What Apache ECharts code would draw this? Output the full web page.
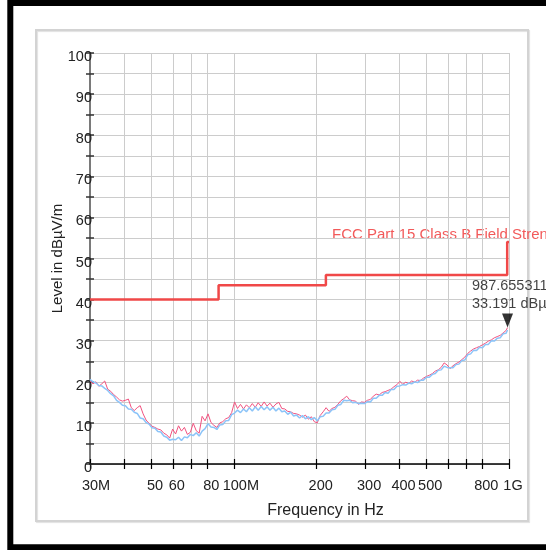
<!DOCTYPE html>
<html>
<head>
<meta charset="utf-8">
<script src="https://cdn.jsdelivr.net/npm/echarts@6/dist/echarts.min.js"></script>
<style>
  html, body { margin: 0; padding: 0; background: #fff; }
  #chart { width: 546px; height: 550px; }
</style>
</head>
<body>
<div id="chart"></div>
<script>
// Sweep frequencies in MHz
const freqMHz = [
  30, 30.75, 31.52, 32.31, 33.11, 33.94, 34.79, 35.66, 36.55, 37.47,
  38.4, 39.36, 40.35, 41.36, 42.39, 43.45, 44.54, 45.65, 46.79, 47.96,
  49.16, 50.39, 51.65, 52.94, 54.26, 55.62, 57.01, 58.44, 59.9, 61.4,
  62.93, 64.5, 66.12, 67.77, 69.46, 71.2, 72.98, 74.8, 76.67, 78.59,
  80.56, 82.57, 84.64, 86.75, 88.92, 91.14, 93.42, 95.76, 98.15, 100.6,
  103.1, 105.7, 108.4, 111.1, 113.8, 116.7, 119.6, 122.6, 125.7, 128.8,
  132, 135.3, 138.7, 142.2, 145.7, 149.4, 153.1, 157, 160.9, 164.9,
  169, 173.3, 177.6, 182, 186.6, 191.3, 196, 200.9, 205.9, 211.1,
  216.4, 221.8, 227.3, 233, 238.8, 244.8, 250.9, 257.2, 263.6, 270.2,
  277, 283.9, 291, 298.3, 305.7, 313.4, 321.2, 329.2, 337.5, 345.9,
  354.6, 363.4, 372.5, 381.8, 391.4, 401.2, 411.2, 421.5, 432, 442.8,
  453.9, 465.2, 476.9, 488.8, 501, 513.5, 526.4, 539.5, 553, 566.9,
  581, 595.6, 610.5, 625.7, 641.4, 657.4, 673.8, 690.7, 707.9, 725.6,
  743.8, 762.4, 781.5, 801, 821, 841.6, 862.6, 884.2, 906.3, 928.9,
  952.2, 976, 987.655311
];

// Peak detector trace, dBµV/m
const peakLevel = [
  20.2, 19.5, 20.0, 18.9, 19.5, 20.2, 18.2, 17.7, 16.9, 16.3,
  15.6, 15.3, 15.5, 15.8, 13.7, 13.0, 13.7, 14.2, 12.2, 10.7,
  9.9, 9.2, 8.9, 8.5, 8.3, 7.5, 7.1, 6.3, 8.5, 7.3,
  9.3, 8.0, 8.9, 7.2, 7.7, 9.9, 8.1, 7.5, 11.6, 10.5,
  12.2, 10.1, 9.4, 8.9, 10.0, 10.3, 11.0, 11.3, 12.5, 15.1,
  13.5, 14.5, 13.4, 14.4, 13.7, 14.7, 13.8, 14.9, 14.0, 15.1,
  14.1, 14.8, 13.8, 14.6, 15.0, 13.5, 13.4, 12.8, 12.7, 12.3,
  12.2, 11.9, 11.4, 11.9, 10.9, 11.5, 10.3, 10.0, 11.8, 12.7,
  13.7, 12.8, 13.5, 13.8, 14.5, 15.4, 15.9, 16.5, 15.6, 15.4,
  15.3, 14.5, 15.1, 15.0, 15.5, 15.7, 16.5, 17.0, 16.8, 17.4,
  17.6, 17.9, 18.2, 18.8, 19.3, 20.1, 19.4, 19.9, 19.6, 20.2,
  19.9, 20.4, 20.3, 20.9, 21.3, 21.6, 22.0, 22.6, 22.9, 23.5,
  24.6, 24.1, 23.2, 23.9, 24.4, 24.8, 25.4, 26.0, 26.9, 27.5,
  28.0, 28.3, 28.6, 29.0, 29.4, 29.9, 30.2, 30.7, 31.0, 31.3,
  31.9, 32.5, 33.191
];

// Average detector trace, dBµV/m
const avgLevel = [
  20.6, 20.0, 19.7, 19.1, 19.0, 18.4, 17.9, 17.1, 16.6, 15.5,
  15.0, 14.3, 14.2, 13.4, 13.3, 12.6, 12.3, 11.2, 11.0, 10.1,
  9.7, 8.8, 8.7, 7.9, 7.8, 6.8, 6.5, 5.8, 6.0, 5.9,
  6.5, 5.7, 6.6, 6.4, 7.2, 6.9, 7.6, 6.8, 8.0, 8.6,
  9.8, 9.0, 8.9, 8.4, 9.5, 9.6, 10.5, 10.6, 12.0, 12.4,
  13.1, 12.5, 13.4, 12.7, 13.7, 12.9, 13.9, 13.1, 14.0, 13.2,
  13.9, 13.1, 13.8, 12.9, 13.6, 12.7, 12.9, 12.1, 12.6, 11.7,
  11.9, 11.2, 11.8, 11.0, 11.5, 10.8, 11.3, 10.5, 11.5, 11.6,
  12.4, 12.4, 13.2, 13.3, 14.3, 14.5, 15.5, 15.4, 15.5, 14.9,
  15.0, 14.7, 14.8, 14.7, 15.2, 15.1, 16.0, 16.0, 16.7, 16.7,
  17.4, 17.2, 18.1, 18.1, 18.9, 19.0, 19.3, 19.2, 19.7, 19.5,
  20.0, 19.8, 20.4, 20.4, 21.1, 21.1, 21.8, 22.0, 22.8, 22.9,
  23.8, 23.5, 23.4, 23.4, 24.2, 24.3, 25.2, 25.3, 26.6, 26.8,
  27.7, 27.6, 28.4, 28.3, 29.1, 29.1, 30.0, 29.9, 30.6, 30.7,
  31.7, 31.8, 32.6
];

// Limit line breakpoints (step drawn at each breakpoint)
const limitName = 'FCC Part 15 Class B Field Strength';
const limitFreqMHz = [30, 88, 216, 985, 1000];
const limitLevel = [40, 43.5, 46, 54, 54];

// Marker
const markerFreqMHz = 987.655311;
const markerLevel = 33.191;

// Axis ticks
const gridFreqMHz = [30, 40, 50, 60, 70, 80, 100, 200, 300, 400, 500, 600, 700, 800, 1000];
const labelFreqMHz = [30, 50, 60, 80, 100, 200, 300, 400, 500, 800, 1000];
const labelText = ['30M', '50', '60', '80', '100M', '200', '300', '400', '500', '800', '1G'];
const levelMin = 0, levelMax = 100, levelStep = 5;

const lg = Math.log10;
const FONT = '"Liberation Sans", Arial, sans-serif';
const TEXT = '#222';
const FS = 14.5;

const toPairs = (xs, ys) => xs.map((f, i) => [lg(f), ys[i]]);

function freqLabel(v) {
  const i = labelFreqMHz.findIndex(f => Math.abs(lg(f) - v) < 1e-6);
  if (i < 0) return '';
  const t = labelText[i];
  const style = (t === '30M') ? 'w' : (t === '100M') ? 'ww' : 'n';
  return '{' + style + '|' + t + '}';
}

const xBase = {
  type: 'value',
  min: lg(30),
  max: lg(1000),
  position: 'bottom',
  gridIndex: 0
};
const yBase = {
  type: 'value',
  min: levelMin,
  max: levelMax,
  interval: levelStep,
  position: 'left',
  gridIndex: 0
};

const chart = echarts.init(document.getElementById('chart'), null, { renderer: 'canvas' });

chart.setOption({
  animation: false,
  backgroundColor: '#fff',
  textStyle: { fontFamily: FONT },
  grid: { left: 90, top: 53, width: 419, height: 411, containLabel: false },
  xAxis: [
    Object.assign({}, xBase, {
      name: 'Frequency in Hz',
      nameLocation: 'middle',
      nameGap: 39,
      nameMoveOverlap: false,
      nameTextStyle: { fontSize: 16, color: TEXT, fontFamily: FONT, padding: [0, 0, 0, 52] },
      axisLine: { show: true, onZero: false, lineStyle: { color: '#000', width: 1.5 } },
      axisTick: { show: true, length: 5, customValues: gridFreqMHz.map(lg), lineStyle: { color: '#000', width: 1.2 } },
      splitLine: { show: true, lineStyle: { color: '#cccccc', width: 1 } },
      axisLabel: {
        show: true,
        customValues: labelFreqMHz.map(lg),
        margin: 14,
        fontSize: FS,
        color: TEXT,
        fontFamily: FONT,
        formatter: freqLabel,
        rich: {
          n: { fontSize: FS, color: TEXT, fontFamily: FONT, padding: [0, 0, 0, 8] },
          w: { fontSize: FS, color: TEXT, fontFamily: FONT, padding: [0, 0, 0, 12] },
          ww: { fontSize: FS, color: TEXT, fontFamily: FONT, padding: [0, 0, 0, 14] }
        }
      }
    }),
    Object.assign({}, xBase, {
      axisLine: { show: false, onZero: false },
      axisTick: { show: true, inside: true, length: 5, customValues: gridFreqMHz.map(lg), lineStyle: { color: '#000', width: 1.2 } },
      splitLine: { show: false },
      axisLabel: { show: false }
    })
  ],
  yAxis: [
    Object.assign({}, yBase, {
      name: 'Level in dBµV/m',
      nameLocation: 'middle',
      nameGap: 25,
      nameMoveOverlap: false,
      nameTextStyle: { fontSize: 15, color: TEXT, fontFamily: FONT },
      axisLine: { show: true, onZero: false, lineStyle: { color: '#7a7a7a', width: 2 } },
      axisTick: { show: true, length: 4, lineStyle: { color: '#333', width: 1.5 } },
      splitLine: { show: true, lineStyle: { color: '#cccccc', width: 1 } },
      axisLabel: {
        margin: -2,
        fontSize: FS,
        color: TEXT,
        fontFamily: FONT,
        formatter: v => (v % 10 === 0 ? '{v|' + v + '}' : ''),
        rich: {
          v: { fontSize: FS, color: TEXT, fontFamily: FONT, padding: [8, 0, 0, 0] }
        }
      }
    }),
    Object.assign({}, yBase, {
      axisLine: { show: false, onZero: false },
      axisTick: { show: true, inside: true, length: 4, lineStyle: { color: '#333', width: 1.5 } },
      splitLine: { show: false },
      axisLabel: { show: false }
    })
  ],
  graphic: [
    {
      type: 'rect', z: -10, silent: true,
      shape: { x: 10.3, y: 3, width: 560, height: 544.3 },
      style: { fill: 'none', stroke: '#000', lineWidth: 6 }
    },
    {
      type: 'rect', z: -10, silent: true,
      shape: { x: 36, y: 30, width: 492, height: 491 },
      style: { fill: 'none', stroke: '#d3d3d3', lineWidth: 2, shadowColor: 'rgba(0,0,0,0.12)', shadowOffsetX: 1, shadowOffsetY: 1, shadowBlur: 1 }
    },
    {
      type: 'text', silent: true, left: 332, top: 227,
      style: { text: limitName, fill: '#f25a5a', fontSize: 15, fontFamily: FONT }
    }
  ],
  series: [
    {
      name: 'Peak',
      type: 'line',
      data: toPairs(freqMHz, peakLevel),
      showSymbol: false,
      symbol: 'none',
      lineStyle: { color: '#f2527f', width: 1 },
      z: 3
    },
    {
      name: 'Average',
      type: 'line',
      data: toPairs(freqMHz, avgLevel),
      showSymbol: false,
      symbol: 'none',
      lineStyle: { color: '#8cc4f8', width: 1.5 },
      z: 4
    },
    {
      name: limitName,
      type: 'line',
      step: 'end',
      data: toPairs(limitFreqMHz, limitLevel),
      showSymbol: false,
      symbol: 'none',
      lineStyle: { color: '#f04848', width: 2.5 },
      z: 5
    },
    {
      name: 'Marker',
      type: 'scatter',
      data: [[lg(markerFreqMHz), markerLevel]],
      symbol: 'triangle',
      symbolRotate: 180,
      symbolSize: [11, 14],
      symbolOffset: [0, '-50%'],
      itemStyle: { color: '#000' },
      label: {
        show: true,
        position: 'top',
        distance: 1,
        offset: [-35.5, 0],
        align: 'left',
        fontSize: FS,
        lineHeight: 18,
        color: '#111',
        fontFamily: FONT,
        formatter: () => markerFreqMHz.toFixed(6) + ' MHz\n' + markerLevel.toFixed(3) + ' dBµV/m'
      },
      z: 6
    }
  ]
});
</script>
</body>
</html>
